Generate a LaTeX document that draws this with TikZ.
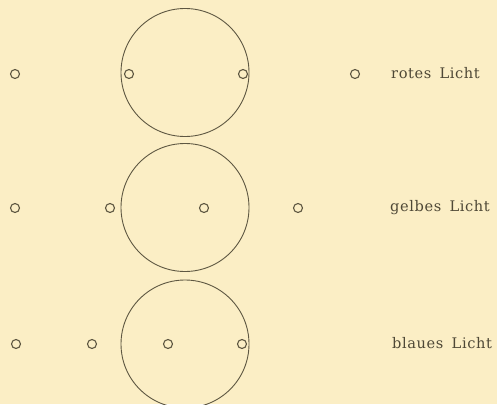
\documentclass[tikz,border=0pt]{standalone}
\usepackage{fontspec}
\setmainfont{DejaVu Serif}
\newfontfamily\labfont[LetterSpace=4, WordSpace=1.6]{DejaVu Serif}
\definecolor{paper}{HTML}{FBEEC5}
\definecolor{ink}{HTML}{5E5742}
\definecolor{textink}{HTML}{4E4836}
\tikzset{
  big/.style={draw=ink, line width=0.9pt, circle, minimum size=128pt, inner sep=0pt},
  dot/.style={draw=ink, line width=1.1pt, circle, minimum size=9pt, inner sep=0pt},
  lab/.style={text=textink, anchor=west, inner sep=0pt, font=\labfont\fontsize{14.6}{17}\selectfont}
}
\begin{document}
\begin{tikzpicture}[x=1pt,y=-1pt]
\fill[paper] (0,0) rectangle (497,404);
\useasboundingbox (0,0) rectangle (497,404);
% row 1
\node[big] (c1) at (185,72.5) {};
\node[dot] (a1) at (15,74) {};
\node[dot] (a2) at (129,74) {};
\node[dot] (a3) at (243,74) {};
\node[dot] (a4) at (355,74) {};
\node[lab] (l1) at (391,73) {rotes Licht};
% row 2
\node[big] (c2) at (185,207.5) {};
\node[dot] (b1) at (15,208) {};
\node[dot] (b2) at (110,208) {};
\node[dot] (b3) at (204,208) {};
\node[dot] (b4) at (298,208) {};
\node[lab] (l2) at (390,208) {gelbes Licht};
% row 3
\node[big] (c3) at (185,344) {};
\node[dot] (d1) at (16,344) {};
\node[dot] (d2) at (92,344) {};
\node[dot] (d3) at (168,344) {};
\node[dot] (d4) at (242,344) {};
\node[lab] (l3) at (392,343) {blaues Licht};
\end{tikzpicture}
\end{document}
